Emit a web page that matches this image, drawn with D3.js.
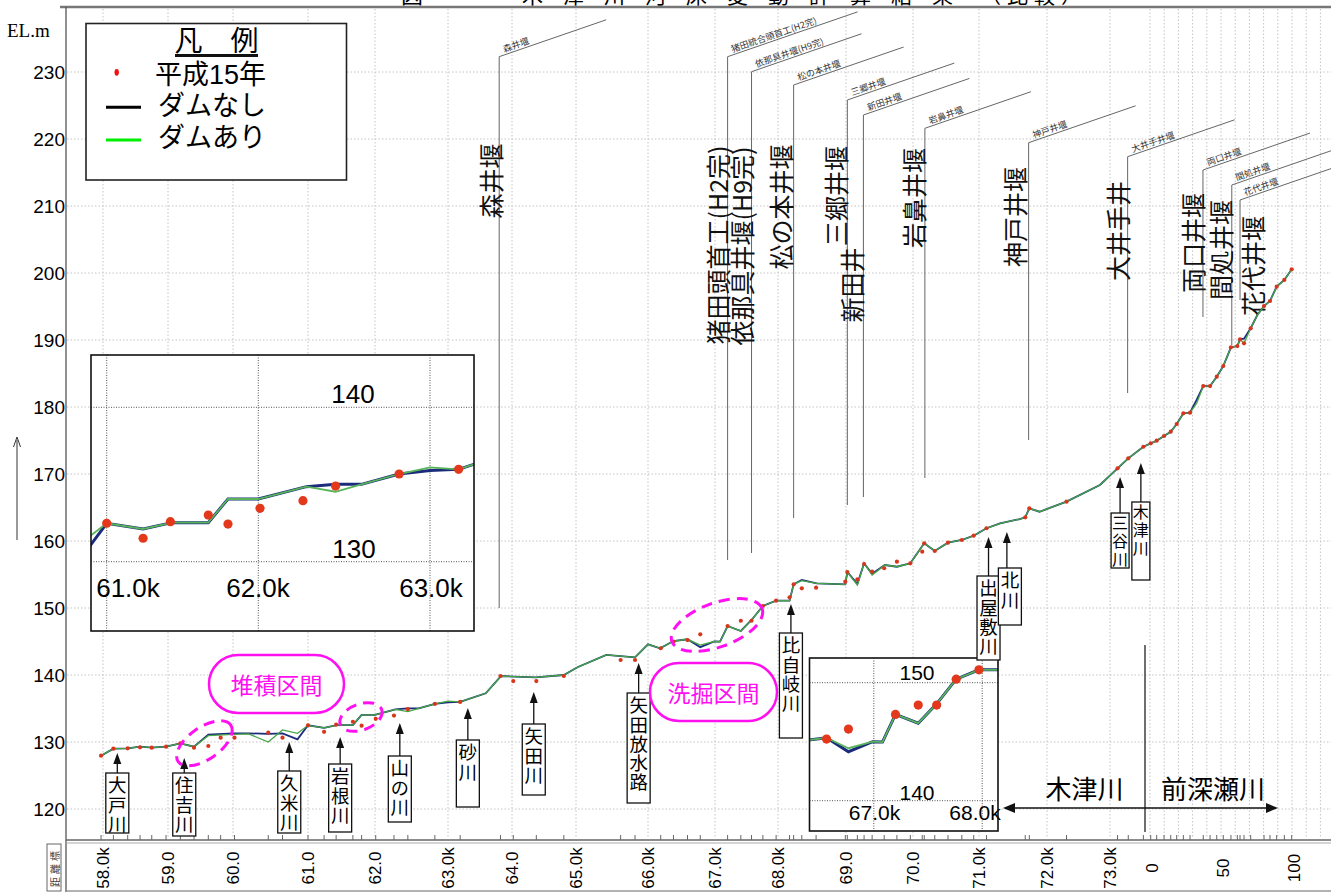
<!DOCTYPE html>
<html><head><meta charset="utf-8">
<script src="https://cdn.jsdelivr.net/npm/d3@7"></script>
<style>body{margin:0;background:#fff;} svg{display:block;}</style>
</head><body><svg id="c" width="1331" height="893"></svg>
<script>
// ---------------- DATA ----------------
const kmTicks = [58,59,60,61,62,63,64,65,66,67,68,69,70,71,72,73];
const kmTickLabels = ["58.0k","59.0","60.0","61.0","62.0","63.0k","64.0","65.0k","66.0k","67.0k","68.0k","69.0","70.0","71.0k","72.0k","73.0k"];
const maeTicks = [0,50,100];
const maeTickLabels = ["0","50","100"];
const elevTicks = [120,130,140,150,160,170,180,190,200,210,220,230];

// 木津川 computed bed (km, EL.m)
const kizuKm = [57.97,58.16,58.38,58.57,58.75,58.97,59.19,59.40,59.62,60.0,
  60.21,60.47,60.66,60.86,61.0,61.24,61.43,61.67,61.80,62.0,
  62.28,62.45,62.60,62.82,63.0,63.19,63.59,63.83,64.04,64.37,
  64.81,65.02,65.42,65.82,66.0,66.18,66.38,66.59,66.78,66.99,
  67.08,67.20,67.41,67.58,67.76,67.97,68.17,68.23,68.35,68.57,
  68.99,69.02,69.17,69.27,69.39,69.58,69.76,69.96,70.17,70.33,
  70.53,70.74,70.92,71.11,71.31,71.60,71.68,71.74,71.89,72.31,
  72.84,73.12,73.29,73.53];
const kizuDam = [127.96,129.0,129.06,129.3,129.15,129.3,129.8,129.3,130.94,131.15,
  131.2,130.0,131.8,131.3,132.49,132.12,132.53,132.53,134.06,134.06,
  134.86,134.53,135.01,135.68,136.11,135.98,137.27,139.85,139.75,139.66,
  140.0,141.15,142.99,142.64,144.58,143.99,145.07,145.33,144.45,145.0,
  144.97,147.31,146.57,148.21,150.30,151.09,151.09,153.54,154.07,153.69,
  153.54,155.37,153.43,156.67,154.93,156.42,156.16,156.67,159.66,158.51,
  159.75,160.15,160.79,161.90,162.64,163.28,163.54,164.88,164.37,165.87,
  168.36,170.85,172.34,174.07];
const kizuNoDam = [127.96,129.0,129.06,129.3,129.15,129.3,129.8,129.3,131.1,131.3,
  131.3,131.2,131.3,130.4,132.49,132.12,132.53,132.53,134.06,134.06,
  134.86,135.01,135.01,135.68,135.9,135.98,137.27,139.85,139.75,139.66,
  140.0,141.15,142.99,142.64,144.58,143.99,145.07,145.33,144.15,145.0,
  144.97,147.31,146.57,148.21,150.30,151.09,151.09,153.54,154.2,153.69,
  153.54,155.37,153.6,156.67,155.1,156.42,156.16,156.67,159.66,158.51,
  159.75,160.15,160.79,161.90,162.64,163.28,163.54,164.88,164.37,165.87,
  168.36,170.85,172.34,174.07];
// 前深瀬川 computed bed
const maeDist = [0.5,4.7,9.9,14.6,18.8,23.5,28.2,32.9,37.5,42.3,47.0,51.6,57.0,61.5,63.4,66.2,70.9,75.6,80.3,84.5,89.2,94.6,99.8];
const maeDam = [174.58,174.97,175.67,176.31,177.46,179.06,179.15,180.55,183.13,183.13,184.52,186.12,188.91,189.10,190.10,189.51,191.75,193.73,195.07,195.82,197.96,198.96,200.55];
const maeNoDam = [174.58,174.97,175.67,176.31,177.46,179.06,179.15,181.1,183.13,183.13,184.52,186.12,188.91,189.10,190.10,190.2,191.75,193.73,195.07,195.82,197.96,198.96,200.55];
// 平成15年 observed bed
const obsKm = [57.97,58.16,58.38,58.57,58.75,58.97,59.19,59.40,59.62,59.81,
  60.02,60.47,60.66,61.0,61.24,61.42,61.67,61.80,62.01,62.26,
  62.45,62.82,63.19,63.82,64.02,64.38,64.81,65.62,65.82,66.19,
  66.38,66.59,66.78,67.20,67.41,67.58,67.76,67.97,68.17,68.23,
  68.35,68.56,68.99,69.02,69.17,69.27,69.39,69.57,69.76,69.96,
  70.14,70.17,70.33,70.53,70.74,70.92,71.11,71.68,71.74,72.31,
  73.12,73.29,73.53];
const obsEl = [127.96,129.0,129.06,129.21,129.15,129.3,129.8,129.15,129.40,130.64,
  130.64,131.39,130.64,132.49,131.52,132.59,133.02,132.44,133.46,133.95,
  134.90,135.68,135.98,139.85,139.10,139.10,139.85,142.24,142.24,143.99,
  144.97,145.22,146.07,147.31,148.10,148.10,150.30,151.09,151.60,153.54,
  152.94,153.03,153.93,155.37,154.28,156.57,155.42,155.93,156.91,156.67,
  158.40,159.66,158.51,159.75,160.15,160.79,161.90,163.54,164.88,165.87,
  170.85,172.34,174.07];
const obsMaeDist = [0.5,4.7,9.9,14.6,18.8,23.5,28.2,37.5,42.3,47.0,51.6,57.0,61.5,63.4,66.2,70.9,80.3,84.5,89.2,94.6,99.8];
const obsMaeEl = [174.58,174.97,175.67,176.31,177.46,179.06,179.15,183.13,183.13,184.52,186.12,188.91,189.10,190.10,189.51,191.75,195.07,195.82,197.96,198.96,200.55];

// weirs
const weirLabels = ["森井堰","猪田頭首工(H2完)","依那具井堰(H9完)","松の本井堰","三郷井堰","新田井","岩鼻井堰","神戸井堰","大井手井","両口井堰","間処井堰","花代井堰"];
const weirSmallLabels = ["森井堰","猪田統合頭首工(H2完)","依那具井堰(H9完)","松の本井堰","三郷井堰","新田井堰","岩鼻井堰","神戸井堰","大井手井堰","両口井堰","間処井堰","花代井堰"];
const weirRiver = ["K","K","K","K","K","K","K","K","K","M","M","M"];
const weirPos = [63.80,67.20,67.58,68.23,69.02,69.26,70.18,71.73,73.28,37.3,57.6,63.4];

// tributaries
const tribNames = ["大戸川","住吉川","久米川","岩根川","山の川","砂川","矢田川","矢田放水路","比自岐川","出屋敷川","北川","三谷川","木津川"];
const tribKm = [58.22,59.25,60.75,61.48,62.34,63.31,64.34,65.87,68.19,71.14,71.41,73.16,73.49];

const legendLabels = ["平成15年","ダムなし","ダムあり"];

// ---------------- LAYOUT ----------------
const W = 1331, H = 893;
const svg = d3.select("#c");
const JP = '"Noto Sans CJK JP","Noto Sans",sans-serif';
const AR = 'Arial,"Liberation Sans",sans-serif';
const ARJP = '"Liberation Sans","Noto Sans CJK JP",sans-serif';
const SERIF = '"Liberation Serif","DejaVu Serif",serif';
const PINK = "#ff10f0";
const NAVY = "#1c2c7c", GREEN = "#46a646", DOT = "#d8361c";

const xK = d3.scaleLinear().domain(kmTicks).range([103,168,233,308,375,448,512,576,648,715,778,846,913,979,1047,1110]);
const xM = d3.scaleLinear().domain([0,100]).range([1150,1292]);
const y = d3.scaleLinear().domain([120,230]).range([809,72]);

svg.append("rect").attr("width",W).attr("height",H).attr("fill","#fff");

// grid
const grid = svg.append("g").attr("stroke","#c4c4c4").attr("stroke-width",1).attr("stroke-dasharray","1.5,2");
elevTicks.forEach(v=>grid.append("line").attr("x1",67).attr("x2",W).attr("y1",y(v)).attr("y2",y(v)));
kmTicks.forEach(k=>grid.append("line").attr("x1",xK(k)).attr("x2",xK(k)).attr("y1",9).attr("y2",838));
d3.range(0,131,10).forEach(d=>grid.append("line").attr("x1",xM(d)).attr("x2",xM(d)).attr("y1",9).attr("y2",838));

// title (cut off at top, as in the source)
svg.append("text").attr("x",412).attr("y",3).attr("font-family",JP).attr("font-size",22).attr("text-anchor","middle").text("図");
svg.append("text").attr("x",522).attr("y",3).attr("font-family",JP).attr("font-size",21).attr("letter-spacing",20).text("木津川河床変動計算結果");
svg.append("text").attr("x",980).attr("y",3).attr("font-family",JP).attr("font-size",21).attr("letter-spacing",6).text("（比較）");

// frame
svg.append("line").attr("x1",60).attr("x2",W).attr("y1",7).attr("y2",7).attr("stroke","#777").attr("stroke-width",2.5);
svg.append("line").attr("x1",66).attr("x2",66).attr("y1",7).attr("y2",892).attr("stroke","#555").attr("stroke-width",1.3);
svg.append("line").attr("x1",66).attr("x2",W).attr("y1",840).attr("y2",840).attr("stroke","#666").attr("stroke-width",1.5);
svg.append("line").attr("x1",66).attr("x2",W).attr("y1",843).attr("y2",843).attr("stroke","#aaa").attr("stroke-width",1);
svg.append("line").attr("x1",66).attr("x2",W).attr("y1",891).attr("y2",891).attr("stroke","#999").attr("stroke-width",1.5);

// strip ticks at sections
const stripTicks = svg.append("g").attr("stroke","#666").attr("stroke-width",1);
obsKm.forEach(k=>stripTicks.append("line").attr("x1",xK(k)).attr("x2",xK(k)).attr("y1",835).attr("y2",840));
obsMaeDist.forEach(d=>stripTicks.append("line").attr("x1",xM(d)).attr("x2",xM(d)).attr("y1",835).attr("y2",840));

// 距離標 box
svg.append("rect").attr("x",47).attr("y",844).attr("width",14).attr("height",47).attr("fill","none").attr("stroke","#666");
svg.append("text").attr("transform","translate(54.5,867.5) rotate(-90)").attr("text-anchor","middle").attr("dominant-baseline","central")
  .attr("font-family",JP).attr("font-size",10).attr("letter-spacing",3).attr("fill","#444").text("距離標");

// x labels
kmTicks.forEach((k,i)=>svg.append("text").attr("transform",`translate(${xK(k)},868) rotate(-90)`).attr("text-anchor","middle")
  .attr("dominant-baseline","central").attr("font-family",AR).attr("font-size",17).text(kmTickLabels[i]));
maeTicks.forEach((d,i)=>svg.append("text").attr("transform",`translate(${xM(d)+2},868) rotate(-90)`).attr("text-anchor","middle")
  .attr("dominant-baseline","central").attr("font-family",AR).attr("font-size",17).text(maeTickLabels[i]));

// y labels
elevTicks.forEach(v=>svg.append("text").attr("x",65).attr("y",y(v)).attr("dy","0.36em").attr("text-anchor","end")
  .attr("font-family",AR).attr("font-size",19).text(v));
svg.append("text").attr("x",7).attr("y",37).attr("font-family",SERIF).attr("font-size",19).text("EL.m");
// left arrow
svg.append("line").attr("x1",17).attr("x2",17).attr("y1",540).attr("y2",440).attr("stroke","#333").attr("stroke-width",1);
svg.append("path").attr("d","M13.5,447 L17,437 L20.5,447").attr("fill","none").attr("stroke","#333").attr("stroke-width",1);

// weirs
const slope = 0.345;
const weirTop = [56.7,56.7,71.7,85,100,115,128.3,142.7,156.7,170,185,200];
const weirBottom = [608,560,553,518,505,497,478,440,393,317,345,300];
const weirSlant = [107,130,110,110,107,106,106,107,107,107,107,107];
const weirDx = [-9.5,-11,-10.5,-14,-12.4,-12.7,-11.6,-14.6,-10.3,-11,-11.8,12];
const weirCy = [181,245,246,207,196,285,198,217,231,243,250,266];
const wg = svg.append("g");
weirLabels.forEach((name,i)=>{
  const lx = weirRiver[i]==="K" ? xK(weirPos[i]) : xM(weirPos[i]);
  const t = weirTop[i], L = weirSlant[i];
  wg.append("path").attr("d",`M${lx},${weirBottom[i]} L${lx},${t} L${lx+L},${t-L*slope}`)
    .attr("fill","none").attr("stroke","#666").attr("stroke-width",1);
  wg.append("text").attr("transform",`translate(${lx+5},${t-5*slope-2.5}) rotate(-19)`)
    .attr("font-family",JP).attr("font-size",9).attr("fill","#333").text(weirSmallLabels[i]);
  wg.append("text").attr("transform",`translate(${lx+weirDx[i]},${weirCy[i]}) rotate(-90)`)
    .attr("text-anchor","middle").attr("dominant-baseline","central")
    .attr("font-family",JP).attr("font-size",25).attr("fill","#111").text(name);
});

// profile lines
const lineGen = d3.line();
function pts(vK, vM){
  return kizuKm.map((k,i)=>[xK(k), y(vK[i])]).concat(maeDist.map((d,i)=>[xM(d), y(vM[i])]));
}
const pNo = pts(kizuNoDam, maeNoDam), pDam = pts(kizuDam, maeDam);
svg.append("path").attr("d",lineGen(pNo)).attr("fill","none").attr("stroke",NAVY).attr("stroke-width",1.8);
svg.append("path").attr("d",lineGen(pDam)).attr("fill","none").attr("stroke",GREEN).attr("stroke-width",1.3);
const obsPts = obsKm.map((k,i)=>[xK(k), y(obsEl[i])]).concat(obsMaeDist.map((d,i)=>[xM(d), y(obsMaeEl[i])]));
svg.append("g").selectAll("circle").data(obsPts).join("circle").attr("cx",d=>d[0]).attr("cy",d=>d[1]).attr("r",2.1).attr("fill",DOT);

// insets (magnified views of the same data)
function inset(id, box, fx, fy, gx, gy, labels){
  const g = svg.append("g");
  g.append("clipPath").attr("id",id).append("rect").attr("x",box[0]).attr("y",box[1]).attr("width",box[2]).attr("height",box[3]);
  g.append("rect").attr("x",box[0]).attr("y",box[1]).attr("width",box[2]).attr("height",box[3]).attr("fill","#fff");
  const c = g.append("g").attr("clip-path",`url(#${id})`);
  gx.forEach(v=>c.append("line").attr("x1",v).attr("x2",v).attr("y1",box[1]).attr("y2",box[1]+box[3]).attr("stroke","#555").attr("stroke-width",1).attr("stroke-dasharray","1,1.5"));
  gy.forEach(v=>c.append("line").attr("y1",v).attr("y2",v).attr("x1",box[0]).attr("x2",box[0]+box[2]).attr("stroke","#555").attr("stroke-width",1).attr("stroke-dasharray","1,1.5"));
  labels.forEach(l=>g.append("text").attr("x",l[0]).attr("y",l[1]).attr("text-anchor","middle").attr("font-family",AR).attr("font-size",l[3]).text(l[2]));
  const tr = p=>[fx(p[0]), fy(y.invert(p[1]))];
  c.append("path").attr("d",lineGen(pNo.map(tr))).attr("fill","none").attr("stroke",NAVY).attr("stroke-width",3);
  c.append("path").attr("d",lineGen(pDam.map(tr))).attr("fill","none").attr("stroke","#58b458").attr("stroke-width",1.8);
  c.selectAll("circle").data(obsPts.map(tr)).join("circle").attr("cx",d=>d[0]).attr("cy",d=>d[1]).attr("r",4.6).attr("fill","#e3381c");
  g.append("rect").attr("x",box[0]).attr("y",box[1]).attr("width",box[2]).attr("height",box[3]).attr("fill","none").attr("stroke","#111").attr("stroke-width",1.6);
}
const f1x = d3.scaleLinear().domain([xK(61),xK(62),xK(63)]).range([106.7,258.3,430]);
const f1y = d3.scaleLinear().domain([130,140]).range([561.7,407.3]);
inset("clip1",[91,355,383,276],f1x,f1y,[106.7,258.3,430],[407.3,561.7],
  [[353,403,"140",26],[354,558,"130",26],[128,597,"61.0k",26],[258,597,"62.0k",26],[431,597,"63.0k",26]]);
const f2x = d3.scaleLinear().domain([xK(67),xK(68)]).range([873.8,982.2]);
const f2y = d3.scaleLinear().domain([140,150]).range([800.7,682.7]);
inset("clip2",[809.5,658,188.5,173],f2x,f2y,[873.8,982.2],[682.7,800.7],
  [[917,680,"150",21],[917,800,"140",21],[874.5,820,"67.0k",21],[975,820,"68.0k",21]]);

// tributaries (vertical text in a box, arrow up to the bed)
const tribTip = [753,758,742,737,723,708,692,663,604,537,532,477,463];
const tribTop = [773,773,771,764,756,740,724,693,633,576,568,513,502];
const tribBot = [833,836,833,832,822,807,795,803,738,660,625,568,580];
const tg = svg.append("g");
tribNames.forEach((n,i)=>{
  const cx = xK(tribKm[i]);
  const small = i>=11;
  const bw = small ? 18 : 23;
  const bx = i===10 ? cx+3 : cx;
  tg.append("line").attr("x1",cx).attr("x2",cx).attr("y1",tribTop[i]).attr("y2",tribTip[i]+8).attr("stroke","#111").attr("stroke-width",1.3);
  tg.append("path").attr("d",`M${cx-4},${tribTip[i]+11} L${cx},${tribTip[i]} L${cx+4},${tribTip[i]+11}Z`).attr("fill","#111");
  tg.append("rect").attr("x",bx-bw/2).attr("y",tribTop[i]).attr("width",bw).attr("height",tribBot[i]-tribTop[i])
    .attr("fill","#fff").attr("stroke","#111").attr("stroke-width",1.3);
  const fs = small ? 16 : 18.5, ls = small ? 2 : 0.8;
  tg.append("text").attr("x",bx).attr("y",tribTop[i]+(small?2:3))
    .style("writing-mode","vertical-rl").style("text-orientation","upright")
    .attr("font-family",JP).attr("font-size",fs).attr("letter-spacing",ls).text(n);
});

// pink annotations
const pg = svg.append("g");
pg.append("rect").attr("x",209).attr("y",655).attr("width",135).attr("height",58).attr("rx",29).attr("fill","#fff").attr("stroke",PINK).attr("stroke-width",2.5);
pg.append("text").attr("x",276.5).attr("y",684).attr("text-anchor","middle").attr("dominant-baseline","central").attr("font-family",JP).attr("font-size",23).attr("fill",PINK).text("堆積区間");
pg.append("rect").attr("x",650).attr("y",663).attr("width",127).attr("height",58).attr("rx",29).attr("fill","#fff").attr("stroke",PINK).attr("stroke-width",2.5);
pg.append("text").attr("x",713.5).attr("y",692).attr("text-anchor","middle").attr("dominant-baseline","central").attr("font-family",JP).attr("font-size",23).attr("fill",PINK).text("洗掘区間");
[[204.4,743.3,32,16,-35],[361,717,22,13,-20],[717,625,48,22,-20]].forEach(e=>
  pg.append("ellipse").attr("cx",0).attr("cy",0).attr("rx",e[2]).attr("ry",e[3])
    .attr("transform",`translate(${e[0]},${e[1]}) rotate(${e[4]})`)
    .attr("fill","none").attr("stroke",PINK).attr("stroke-width",3).attr("stroke-dasharray","11,7"));

// river section arrow
svg.append("line").attr("x1",1145).attr("x2",1145).attr("y1",645).attr("y2",832).attr("stroke","#333").attr("stroke-width",1.4);
svg.append("line").attr("x1",1012).attr("x2",1268).attr("y1",808).attr("y2",808).attr("stroke","#111").attr("stroke-width",1.4);
svg.append("path").attr("d","M1003,808 L1015,803 L1015,813Z").attr("fill","#111");
svg.append("path").attr("d","M1278,808 L1266,803 L1266,813Z").attr("fill","#111");
svg.append("text").attr("x",1084.5).attr("y",787).attr("text-anchor","middle").attr("dominant-baseline","central").attr("font-family",JP).attr("font-size",26).text("木津川");
svg.append("text").attr("x",1213).attr("y",787).attr("text-anchor","middle").attr("dominant-baseline","central").attr("font-family",JP).attr("font-size",26).text("前深瀬川");

// legend
const lg = svg.append("g");
lg.append("rect").attr("x",86).attr("y",23.5).attr("width",260.5).attr("height",156.5).attr("fill","#fff").attr("stroke","#222").attr("stroke-width",1.6);
lg.append("text").attr("x",216.5).attr("y",51).attr("text-anchor","middle").attr("font-family",ARJP).attr("font-size",28).text("凡　例");
lg.append("line").attr("x1",175).attr("x2",258).attr("y1",55.5).attr("y2",55.5).attr("stroke","#111").attr("stroke-width",3);
lg.append("ellipse").attr("cx",116.7).attr("cy",72.3).attr("rx",2.2).attr("ry",3.4).attr("fill","#f01010");
lg.append("line").attr("x1",106).attr("x2",141).attr("y1",107.3).attr("y2",107.3).attr("stroke","#000").attr("stroke-width",3);
lg.append("line").attr("x1",106).attr("x2",141).attr("y1",140).attr("y2",140).attr("stroke","#00ee00").attr("stroke-width",3);
[[155,83.5],[158,115],[158,147]].forEach((p,i)=>lg.append("text").attr("x",p[0]).attr("y",p[1])
  .attr("font-family",ARJP).attr("font-size",27).text(legendLabels[i]));
</script>
</body></html>
